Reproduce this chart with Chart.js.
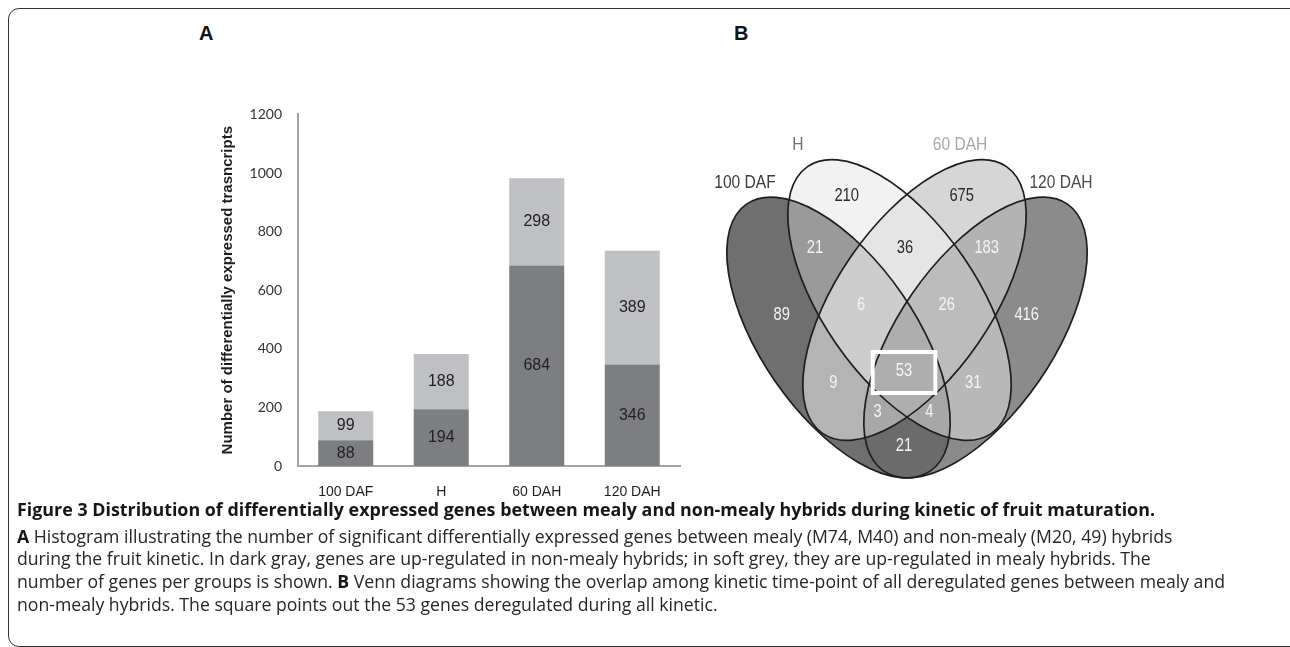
<!DOCTYPE html>
<html>
<head>
<meta charset="utf-8">
<script src="https://cdn.jsdelivr.net/npm/chart.js@4.4.1/dist/chart.umd.min.js"></script>
<style>
  html, body { margin: 0; padding: 0; background: #fff; }
  body { width: 1290px; height: 647px; position: relative; overflow: hidden; }
  .frame { position: absolute; left: 8px; top: 8px; width: 1300px; height: 639px;
           border: 1.5px solid #333; border-radius: 11px; box-sizing: border-box; }
  .panel { position: absolute; font: bold 20px "Liberation Sans", Arial, sans-serif;
           line-height: 20px; color: #111; }
  #bars { position: absolute; left: 160px; top: 90px; }
  #venn { position: absolute; left: 690px; top: 130px; }
  .cap { position: absolute; left: 17px; white-space: nowrap; line-height: 20px;
         font-family: "Open Sans", "Noto Sans", sans-serif; color: #262626; }
  .cap b { font-weight: 700; color: #161616; }
</style>
</head>
<body>
<div class="frame"></div>
<div class="panel" style="left:199px;top:23px">A</div>
<div class="panel" style="left:734px;top:23px">B</div>
<canvas id="bars" width="540" height="415"></canvas>
<canvas id="venn" width="420" height="360"></canvas>

<div class="cap head" data-w="1138" style="top:499px"><b>Figure 3 Distribution of differentially expressed genes between mealy and non-mealy hybrids during kinetic of fruit maturation.</b></div>
<div class="cap body" data-w="1129" style="top:526px"><b>A</b> Histogram illustrating the number of significant differentially expressed genes between mealy (M74, M40) and non-mealy (M20, 49) hybrids</div>
<div class="cap body" data-w="1126" style="top:548px">during the fruit kinetic. In dark gray, genes are up-regulated in non-mealy hybrids; in soft grey, they are up-regulated in mealy hybrids. The</div>
<div class="cap body" data-w="1248" style="top:571px">number of genes per groups is shown. <b>B</b> Venn diagrams showing the overlap among kinetic time-point of all deregulated genes between mealy and</div>
<div class="cap body" data-w="700" style="top:594px">non-mealy hybrids. The square points out the 53 genes deregulated during all kinetic.</div>

<script>
// ---- panel A: stacked bars
const stages = ["100 DAF", "H", "60 DAH", "120 DAH"];
const upNonMealy = [88, 194, 684, 346];   // dark gray
const upMealy = [99, 188, 298, 389];      // soft grey
const yMax = 1200;
const yStep = 200;

// ---- panel B: venn counts
const vennSets = ["100 DAF", "H", "60 DAH", "120 DAH"];
// which sets each region belongs to (index into vennSets)
const vennRegions = [[0], [1], [2], [3], [0, 1], [1, 2], [2, 3], [0, 1, 2], [1, 2, 3],
                     [0, 1, 2, 3], [0, 2], [1, 3], [0, 2, 3], [0, 1, 3], [0, 3]];
const vennCounts = [89, 210, 675, 416, 21, 36, 183, 6, 26, 53, 9, 31, 3, 4, 21];
const highlighted = 9; // the 53 genes shared by all

// venn layout, in the venn chart's own units
const ellipseGeom = [
  { cx: 148.5, cy: 207.5, a: 162, b: 77, rot: 55.4 },
  { cx: 209.5, cy: 170, a: 162, b: 77, rot: 55.4 },
  { cx: 224.5, cy: 170, a: 162, b: 77, rot: 124.6 },
  { cx: 285.5, cy: 207.5, a: 162, b: 77, rot: 124.6 }
];
const regionLabelPos = [[91.7, 185], [156.7, 66], [271.7, 66], [336.7, 185], [125, 118.3],
  [215, 118.3], [296.7, 118.3], [171, 175], [256.7, 175], [214, 240.7], [143.3, 253.3],
  [283.3, 253.3], [187.7, 281.7], [239.3, 281.7], [214, 315.7]];
const regionFill = ["#6f6f6f", "#f2f2f2", "#d6d6d6", "#8b8b8b", "#9a9a9a", "#e5e5e5",
  "#b3b3b3", "#cdcdcd", "#bcbcbc", "#aeaeae", "#b4b4b4", "#b8b8b8", "#a7a7a7", "#a7a7a7", "#6b6b6b"];
const regionText = ["#f4f4f4", "#2a2a2a", "#2a2a2a", "#f4f4f4", "#f4f4f4", "#2a2a2a",
  "#f4f4f4", "#f4f4f4", "#f4f4f4", "#f4f4f4", "#f4f4f4", "#f4f4f4", "#f4f4f4", "#f4f4f4", "#f4f4f4"];
const setLabelPos = [[55, 53], [108, 15], [270, 15], [371, 53]];
const setLabelColor = ["#3a3a3a", "#707070", "#a8a8a8", "#4a4a4a"];

const segmentLabels = {
  id: "segmentLabels",
  afterDatasetsDraw(chart) {
    const ctx = chart.ctx;
    ctx.save();
    ctx.font = '16px "Liberation Sans", Arial, sans-serif';
    ctx.fillStyle = "#222";
    ctx.textAlign = "center";
    ctx.textBaseline = "middle";
    chart.data.datasets.forEach((ds, i) => {
      chart.getDatasetMeta(i).data.forEach((bar, j) => {
        ctx.fillText(ds.data[j], bar.x, (bar.y + bar.base) / 2);
      });
    });
    ctx.restore();
  }
};

new Chart(document.getElementById("bars"), {
  type: "bar",
  data: {
    labels: stages,
    datasets: [
      { label: "up in non-mealy", data: upNonMealy, backgroundColor: "#7d7e82" },
      { label: "up in mealy", data: upMealy, backgroundColor: "#bfc0c3" }
    ]
  },
  options: {
    responsive: false,
    animation: false,
    layout: { padding: { top: 10, right: 20, left: 0, bottom: 0 }, autoPadding: false },
    plugins: { legend: { display: false }, tooltip: { enabled: false } },
    datasets: { bar: { categoryPercentage: 1, barPercentage: 0.576 } },
    scales: {
      x: {
        stacked: true,
        grid: { display: false, drawTicks: false },
        border: { display: true, color: "#a3a3a3", width: 2 },
        ticks: { color: "#1e1e1e", padding: 18, font: { family: '"Liberation Sans", Arial', size: 14 } },
        afterFit(scale) { scale.height = 39; }
      },
      y: {
        stacked: true,
        min: 0,
        max: yMax,
        ticks: {
          stepSize: yStep, color: "#333", padding: 16,
          font: { family: "Lato", size: 14 },
          callback: v => String(v)
        },
        grid: { display: false, drawTicks: false },
        border: { display: true, color: "#a3a3a3", width: 2 },
        title: {
          display: true,
          text: "Number of differentially expressed trasncripts",
          color: "#1e1e1e",
          font: { family: '"Liberation Sans", Arial', size: 15, weight: "bold" },
          padding: { top: 59, bottom: 0 }
        },
        afterFit(scale) { scale.width = 138; }
      }
    }
  },
  plugins: [segmentLabels]
});

// narrow text, like the condensed face of the original diagram
function narrowText(ctx, text, x, y, squeeze) {
  ctx.save();
  ctx.translate(x, y);
  ctx.scale(squeeze, 1);
  ctx.fillText(text, 0, 0);
  ctx.restore();
}

const vennPlugin = {
  id: "venn",
  beforeDatasetsDraw(chart) {
    const { ctx, chartArea: area, scales: { x, y } } = chart;
    const k = x.getPixelForValue(1) - x.getPixelForValue(0);
    const shapes = ellipseGeom.map(e => ({
      cx: x.getPixelForValue(e.cx), cy: y.getPixelForValue(e.cy),
      rx: e.a * k, ry: e.b * k, rot: e.rot * Math.PI / 180
    }));
    const addEllipse = s => {
      ctx.moveTo(s.cx + s.rx * Math.cos(s.rot), s.cy + s.rx * Math.sin(s.rot));
      ctx.ellipse(s.cx, s.cy, s.rx, s.ry, s.rot, 0, Math.PI * 2);
    };
    vennRegions.forEach((members, r) => {
      ctx.save();
      shapes.forEach((s, i) => {
        const inside = members.includes(i);
        ctx.beginPath();
        if (!inside) ctx.rect(area.left, area.top, area.width, area.height);
        addEllipse(s);
        ctx.clip(inside ? "nonzero" : "evenodd");
      });
      ctx.fillStyle = regionFill[r];
      ctx.fillRect(area.left, area.top, area.width, area.height);
      ctx.restore();
    });
    ctx.save();
    ctx.strokeStyle = "#1e1e1e";
    ctx.lineWidth = 1.7;
    shapes.forEach(s => { ctx.beginPath(); addEllipse(s); ctx.stroke(); });
    ctx.restore();
  },
  afterDatasetsDraw(chart) {
    const { ctx, scales: { x, y } } = chart;
    const pts = chart.getDatasetMeta(0).data;
    ctx.save();
    ctx.textAlign = "center";
    ctx.textBaseline = "middle";
    ctx.font = '18px "Liberation Sans", Arial, sans-serif';
    pts.forEach((p, i) => {
      ctx.fillStyle = regionText[i];
      narrowText(ctx, String(vennCounts[i]), p.x, p.y, 0.82);
    });
    // box round the core region
    const c = pts[highlighted];
    const hw = x.getPixelForValue(31.3) - x.getPixelForValue(0);
    const hh = y.getPixelForValue(20.5) - y.getPixelForValue(0);
    ctx.strokeStyle = "#fff";
    ctx.lineWidth = 4;
    ctx.strokeRect(c.x - hw, c.y - hh + 1.8, hw * 2, hh * 2);
    ctx.font = '19px "Liberation Sans", Arial, sans-serif';
    vennSets.forEach((name, i) => {
      ctx.fillStyle = setLabelColor[i];
      narrowText(ctx, name, x.getPixelForValue(setLabelPos[i][0]), y.getPixelForValue(setLabelPos[i][1]), 0.82);
    });
    ctx.restore();
  }
};

new Chart(document.getElementById("venn"), {
  type: "scatter",
  data: {
    datasets: [{ data: regionLabelPos.map(p => ({ x: p[0], y: p[1] })), pointRadius: 0 }]
  },
  options: {
    responsive: false,
    animation: false,
    layout: { padding: 0 },
    plugins: { legend: { display: false }, tooltip: { enabled: false } },
    scales: {
      x: { type: "linear", min: 0, max: 420, display: false },
      y: { type: "linear", min: 0, max: 360, reverse: true, display: false }
    }
  },
  plugins: [vennPlugin]
});

// size the caption lines to the widths of the original
function fitLines(selector, base) {
  const els = [...document.querySelectorAll(selector)];
  els.forEach(el => { el.style.fontSize = base + "px"; });
  const ratios = els.map(el => Number(el.dataset.w) / el.getBoundingClientRect().width);
  const size = base * ratios.reduce((s, r) => s + r, 0) / ratios.length;
  els.forEach(el => { el.style.fontSize = size.toFixed(2) + "px"; });
}
fitLines(".cap.head", 17);
fitLines(".cap.body", 17);
</script>
</body>
</html>
